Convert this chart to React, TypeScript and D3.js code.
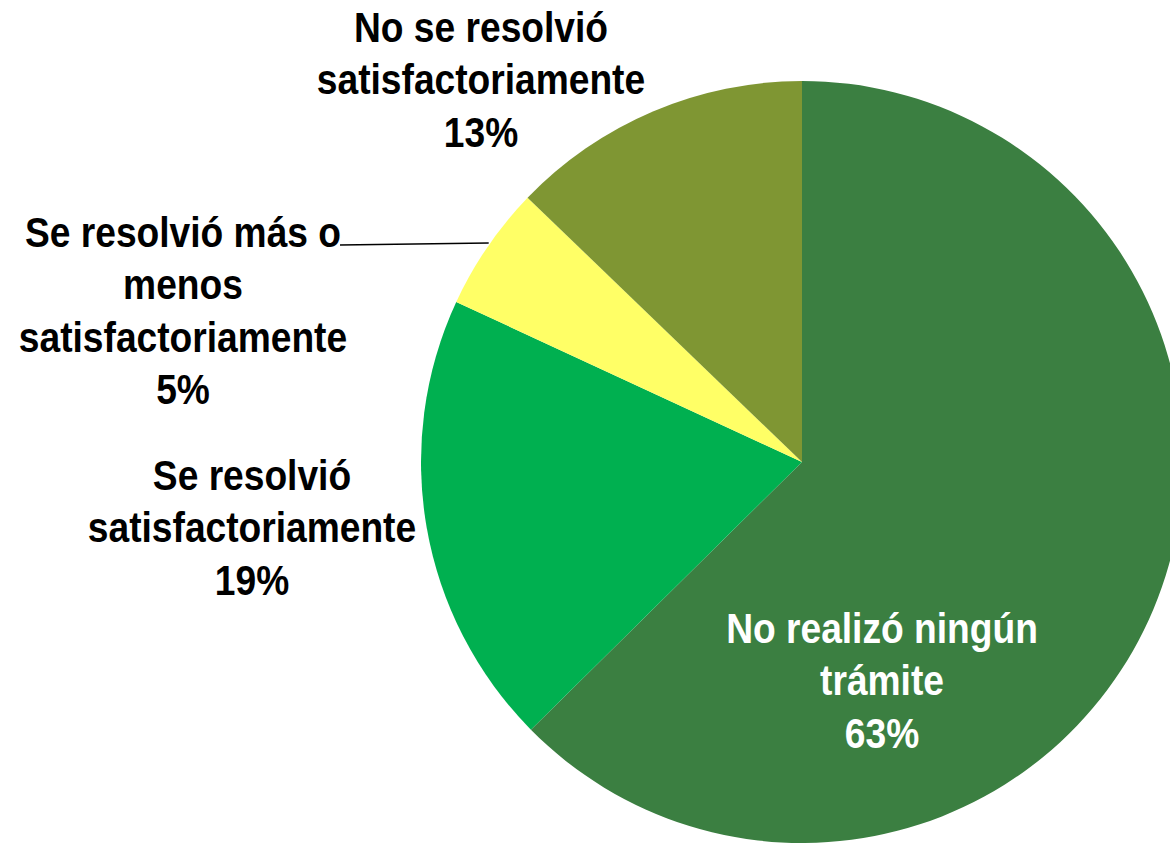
import React from "react";
import * as d3 from "d3";

const categories = [
  "No realizó ningún trámite",
  "Se resolvió satisfactoriamente",
  "Se resolvió más o menos satisfactoriamente",
  "No se resolvió satisfactoriamente",
];
const values = [62.6, 19.3, 5.3, 12.8];
const colors = ["#3B7F41", "#00B050", "#FFFF66", "#7F9633"];
const labelLines = [
  ["No realizó ningún", "trámite"],
  ["Se resolvió", "satisfactoriamente"],
  ["Se resolvió más o", "menos", "satisfactoriamente"],
  ["No se resolvió", "satisfactoriamente"],
];

const W = 1170;
const H = 843;
const cx = 802;
const cy = 462;
const R = 381;

// label anchor: center x and first baseline
const labelPos = [
  { x: 882, y: 643, fill: "#fff" },
  { x: 252, y: 490, fill: "#000" },
  { x: 183, y: 247, fill: "#000" },
  { x: 481, y: 42, fill: "#000" },
];
const lineH = 52.5;
const fontSize = 42;
const squeeze = 0.885;

export default function App() {
  const pie = d3.pie<number>().sort(null).value((d) => d)(values);
  const arc = d3.arc<d3.PieArcDatum<number>>().innerRadius(0).outerRadius(R);
  const total = d3.sum(values);
  const font = "'Liberation Sans Narrow', 'Arial Narrow', 'Liberation Sans', Arial, sans-serif";

  // leader line for small slice
  const s = pie[2];
  const midA = (s.startAngle + s.endAngle) / 2;
  const endX = cx + Math.sin(midA) * R * 0.99;

  return (
    <svg
      width={W}
      height={H}
      style={{ position: "fixed", left: 0, top: 0, background: "#fff" }}
    >
      <g transform={`translate(${cx},${cy})`}>
        {pie.map((p, i) => (
          <path key={i} d={arc(p) || ""} fill={colors[i]} />
        ))}
      </g>
      <line x1={340} y1={245} x2={endX - 2} y2={243} stroke="#000" strokeWidth={1.5} />
      {labelLines.map((lines, i) => {
        const pos = labelPos[i];
        const all = [...lines, `${Math.round((values[i] / total) * 100)}%`];
        return (
          <g key={i} transform={`translate(${pos.x},${pos.y}) scale(${squeeze},1)`}>
            <text
              textAnchor="middle"
              fontFamily={font}
              fontWeight="bold"
              fontSize={fontSize}
              fill={pos.fill}
            >
              {all.map((t, j) => (
                <tspan key={j} x={0} y={j * lineH}>
                  {t}
                </tspan>
              ))}
            </text>
          </g>
        );
      })}
    </svg>
  );
}
